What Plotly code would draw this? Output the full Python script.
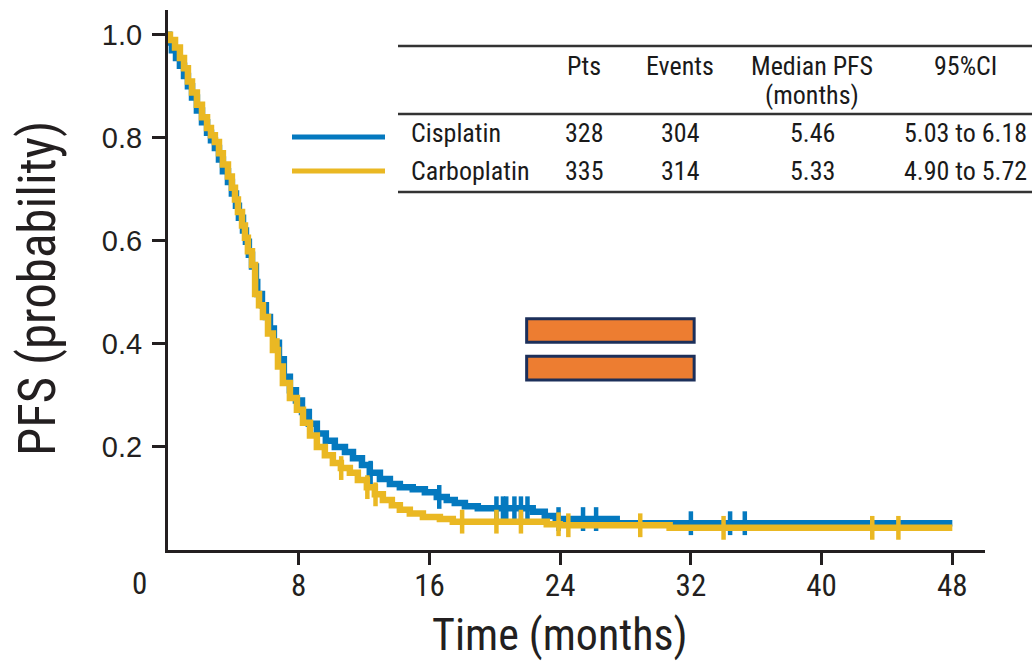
import numpy as np
import plotly.graph_objects as go

# ---------------- data ----------------
cis_time = [0, 0.06, 0.24, 0.49, 0.73, 0.98, 1.22, 1.47, 1.77, 2.08, 2.39, 2.63, 2.87, 3.12, 3.36,
            3.67, 3.91, 4.16, 4.34, 4.59, 4.77, 4.95, 5.14, 5.38, 5.46, 5.75, 5.99, 6.24, 6.48,
            6.79, 7.09, 7.46, 7.83, 8.20, 8.62, 9.11, 9.66, 10.21, 10.83, 11.32, 11.87, 12.35,
            12.97, 13.58, 14.19, 14.98, 15.72, 16.45, 17.06, 17.55, 18.17, 18.96, 22.32, 23.06,
            23.73, 27.46, 48.0]
cis_surv = [1.0, 0.985, 0.97, 0.955, 0.94, 0.92, 0.90, 0.878, 0.853, 0.83, 0.81, 0.795, 0.78, 0.758,
            0.735, 0.714, 0.692, 0.668, 0.645, 0.62, 0.598, 0.573, 0.55, 0.52, 0.497, 0.475, 0.452,
            0.43, 0.402, 0.37, 0.336, 0.31, 0.29, 0.268, 0.245, 0.226, 0.212, 0.200, 0.190, 0.178,
            0.165, 0.15, 0.138, 0.128, 0.122, 0.118, 0.112, 0.103, 0.097, 0.091, 0.085, 0.081,
            0.074, 0.066, 0.060, 0.052, 0.052]
cis_censor = [12.4, 16.6, 20.1, 20.5, 20.7, 21.2, 21.6, 22.0, 23.9, 25.4, 26.2, 32.0, 34.4, 35.3]

carbo_time = [0, 0.12, 0.43, 0.73, 0.98, 1.22, 1.47, 1.77, 2.08, 2.39, 2.63, 2.87, 3.12, 3.36, 3.67,
              3.91, 4.10, 4.28, 4.53, 4.71, 4.89, 5.14, 5.33, 5.57, 5.81, 6.12, 6.42, 6.73, 7.03,
              7.46, 7.89, 8.26, 8.69, 9.11, 9.60, 10.09, 10.58, 11.13, 11.62, 12.17, 12.66, 13.15,
              13.70, 14.19, 14.80, 15.60, 16.64, 17.43, 23.18, 23.98, 30.70, 48.0]
carbo_surv = [1.0, 0.99, 0.975, 0.955, 0.935, 0.909, 0.888, 0.864, 0.84, 0.819, 0.805, 0.792, 0.77,
              0.748, 0.725, 0.703, 0.68, 0.656, 0.63, 0.606, 0.58, 0.553, 0.497, 0.475, 0.452, 0.42,
              0.388, 0.356, 0.324, 0.295, 0.272, 0.247, 0.222, 0.200, 0.184, 0.169, 0.159, 0.150,
              0.136, 0.122, 0.108, 0.097, 0.087, 0.078, 0.071, 0.064, 0.060, 0.055, 0.050, 0.048,
              0.043, 0.043]
carbo_censor = [6.7, 10.6, 12.2, 12.7, 18.0, 20.1, 21.6, 23.9, 24.5, 28.9, 34.0, 43.1, 44.7]

x_ticks = [8, 16, 24, 32, 40, 48]
y_ticks = [0.2, 0.4, 0.6, 0.8, 1.0]
y_ticktext = ["0.2", "0.4", "0.6", "0.8", "1.0"]

table_header = ["Pts", "Events", "Median PFS", "95%CI"]
table_rows = [
    ["Cisplatin", "328", "304", "5.46", "5.03 to 6.18"],
    ["Carboplatin", "335", "314", "5.33", "4.90 to 5.72"],
]

BLUE = "#0479BF"
YELLOW = "#EAB823"
DARK = "#231F20"
NARROW = "Liberation Sans Narrow, Roboto Condensed, DejaVu Sans Condensed, sans-serif"
REG = "Liberation Sans, Arial, sans-serif"

# ---------------- layout helpers (pixel -> paper) ----------------
W, H = 1036, 663
L, R, T, B = 168, 51, 10, 113
PW, PH = W - L - R, H - T - B


def px(x):
    return (x - L) / PW


def py(y):
    return (H - B - y) / PH


def step_value(times, surv, t):
    idx = np.searchsorted(np.asarray(times), t, side="right") - 1
    return float(np.asarray(surv)[idx])


fig = go.Figure()

for times, surv, cens, color, name in [
    (cis_time, cis_surv, cis_censor, BLUE, "Cisplatin"),
    (carbo_time, carbo_surv, carbo_censor, YELLOW, "Carboplatin"),
]:
    fig.add_trace(go.Scatter(x=times, y=surv, mode="lines", line=dict(color=color, width=6.5, shape="hv"),
                             name=name, showlegend=False, hoverinfo="skip"))
    fig.add_trace(go.Scatter(x=cens, y=[step_value(times, surv, c) for c in cens], mode="markers",
                             marker=dict(symbol="line-ns", size=17, line=dict(color=color, width=4.5)),
                             showlegend=False, hoverinfo="skip"))

# orange "equals" sign
fig.add_shape(type="rect", xref="x", yref="y", x0=21.95, x1=32.2, y0=0.403, y1=0.449,
              fillcolor="#ED7D31", line=dict(color="#1C2F5A", width=3))
fig.add_shape(type="rect", xref="x", yref="y", x0=21.95, x1=32.2, y0=0.330, y1=0.376,
              fillcolor="#ED7D31", line=dict(color="#1C2F5A", width=3))

# table lines
for yy in [46, 114, 192]:
    fig.add_shape(type="line", xref="paper", yref="paper", x0=px(398), x1=px(1032), y0=py(yy), y1=py(yy),
                  line=dict(color="#333333", width=2.5))
# legend swatches
fig.add_shape(type="line", xref="paper", yref="paper", x0=px(292), x1=px(385), y0=py(137), y1=py(137),
              line=dict(color=BLUE, width=5))
fig.add_shape(type="line", xref="paper", yref="paper", x0=px(292), x1=px(385), y0=py(171), y1=py(171),
              line=dict(color=YELLOW, width=5))

col_x = [584, 680, 812, 965]
tfont = dict(family=NARROW, size=26, color="#1A1A1A")
for cx, h in zip(col_x, table_header):
    fig.add_annotation(x=px(cx), y=py(66), xref="paper", yref="paper", text=h, showarrow=False,
                       xanchor="center", yanchor="middle", font=tfont)
fig.add_annotation(x=px(812), y=py(95), xref="paper", yref="paper", text="(months)", showarrow=False,
                   xanchor="center", yanchor="middle", font=tfont)
for ry, row in zip([133, 171], table_rows):
    fig.add_annotation(x=px(409), y=py(ry), xref="paper", yref="paper", text=row[0], showarrow=False,
                       xanchor="left", yanchor="middle", font=tfont)
    for cx, v in zip(col_x, row[1:]):
        fig.add_annotation(x=px(cx), y=py(ry), xref="paper", yref="paper", text=v, showarrow=False,
                           xanchor="center", yanchor="middle", font=tfont)

# "0" label at origin, axis titles
fig.add_annotation(x=px(139), y=py(583), xref="paper", yref="paper", text="0", showarrow=False,
                   xanchor="center", yanchor="middle", font=dict(family=NARROW, size=31, color=DARK))
fig.add_annotation(x=px(560), y=py(635), xref="paper", yref="paper", text="Time (months)", showarrow=False,
                   xanchor="center", yanchor="middle", font=dict(family=NARROW, size=44, color=DARK))
fig.add_annotation(x=px(38), y=py(289), xref="paper", yref="paper", text="PFS (probability)", showarrow=False,
                   textangle=-90, xanchor="center", yanchor="middle",
                   font=dict(family=NARROW, size=51, color=DARK))

fig.update_layout(
    width=W, height=H, margin=dict(l=L, r=R, t=T, b=B),
    paper_bgcolor="white", plot_bgcolor="white", showlegend=False,
    xaxis=dict(range=[0, 50], tickvals=x_ticks, ticks="outside", ticklen=12, tickwidth=2.5,
               tickcolor=DARK, showline=True, linecolor=DARK, linewidth=3, showgrid=False,
               zeroline=False, tickfont=dict(family=NARROW, size=31, color=DARK), ticklabelstandoff=-6),
    yaxis=dict(range=[0, 1.048], tickvals=y_ticks, ticktext=y_ticktext, ticks="outside", ticklen=13,
               tickwidth=2.5, tickcolor=DARK, showline=True, linecolor=DARK, linewidth=3,
               showgrid=False, zeroline=False, tickfont=dict(family=REG, size=29, color=DARK),
               ticklabelstandoff=4),
)

fig.write_html("out.html", config={"displayModeBar": False},
               post_script="document.body.style.margin='0px';document.body.style.overflow='hidden';")
